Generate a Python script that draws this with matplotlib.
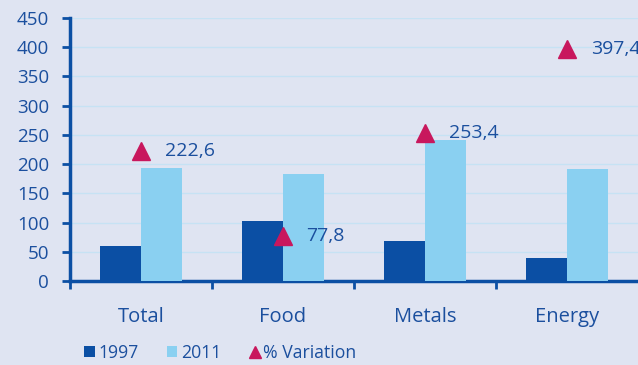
import numpy as np
import matplotlib
matplotlib.use("Agg")
import matplotlib.pyplot as plt
from matplotlib.patches import Patch
from matplotlib.lines import Line2D

# Commodity price indices (1997 vs 2011) and percentage change
categories = ["Total", "Food", "Metals", "Energy"]
idx_1997 = [60, 102, 69, 39]
idx_2011 = [193, 183, 241, 191]
variation = [222.6, 77.8, 253.4, 397.4]
yticks = [0, 50, 100, 150, 200, 250, 300, 350, 400, 450]

BG = "#DFE4F2"
DARK = "#0B4FA4"
LIGHT = "#8AD0F1"
MAGENTA = "#C8175D"
TEXT = "#1B4F9E"
GRID = "#C6E2F4"

plt.rcParams["font.family"] = ["Open Sans", "DejaVu Sans"]

fig = plt.figure(figsize=(6.38, 3.65), dpi=100, facecolor=BG)
ax = fig.add_axes([0.1097, 0.230, 0.8903, 0.721], facecolor=BG)

x = np.arange(len(categories))
w = 0.29
ax.bar(x - w / 2, idx_1997, width=w, color=DARK, zorder=3)
ax.bar(x + w / 2, idx_2011, width=w, color=LIGHT, zorder=3)
ax.plot(x, variation, linestyle="none", marker="^", markersize=13,
        color=MAGENTA, zorder=4, clip_on=False)

# the last label runs past the right edge, as in the printed chart
for xi, v in zip(x, variation):
    ax.annotate(f"{v:.1f}".replace(".", ","), (xi, v), xytext=(17, 0),
                textcoords="offset points", va="center", ha="left",
                fontsize=14, color=TEXT, annotation_clip=False)

ax.set_xlim(-0.5, 3.5)
ax.set_ylim(0, 450)
ax.set_yticks(yticks)
ax.yaxis.grid(True, color=GRID, linewidth=1, zorder=0)
ax.set_axisbelow(True)

# category labels centred, ticks at category boundaries
ax.set_xticks(x)
ax.set_xticklabels(categories, fontsize=14.5, color=TEXT)
ax.tick_params(axis="x", which="major", length=0, pad=19)
ax.set_xticks(np.arange(-0.5, 3.5, 1.0), minor=True)
ax.tick_params(axis="x", which="minor", length=6, width=2, color=DARK,
               direction="out")
ax.tick_params(axis="y", length=6, width=2, color=DARK, labelsize=13.5,
               labelcolor=TEXT, pad=9)

for side in ["top", "right"]:
    ax.spines[side].set_visible(False)
for side in ["left", "bottom"]:
    ax.spines[side].set_color(DARK)
    ax.spines[side].set_linewidth(2.5)

handles = [
    Patch(facecolor=DARK, label="1997"),
    Patch(facecolor=LIGHT, label="2011"),
    Line2D([], [], linestyle="none", marker="^", markersize=9,
           color=MAGENTA, label="% Variation"),
]
fig.legend(handles=handles, loc="center left", bbox_to_anchor=(0.132, 0.033),
           ncol=3, frameon=False, fontsize=12.7, labelcolor=TEXT,
           handlelength=0.6, handleheight=0.6, handletextpad=0.2,
           columnspacing=1.6, borderaxespad=0, borderpad=0)

fig.savefig("out.png", dpi=100, facecolor=BG)
